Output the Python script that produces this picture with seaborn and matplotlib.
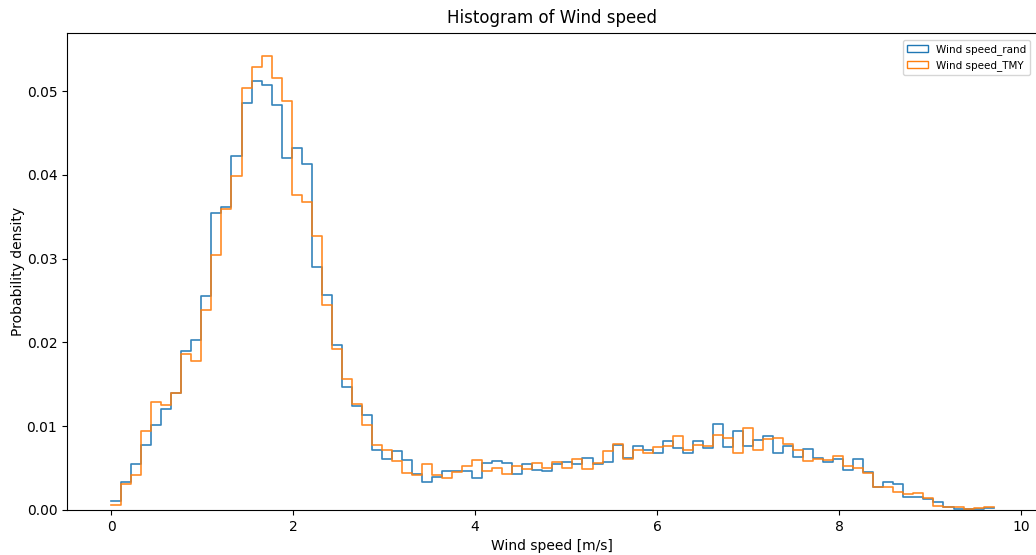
import numpy as np
import pandas as pd
import seaborn as sns
import matplotlib.pyplot as plt
from matplotlib.patches import Patch

# bin heights (probability per bin), 88 bins from 0 to 9.7 m/s
rand_vals = [
    0.0011, 0.0033, 0.0055, 0.0078, 0.0101, 0.0121, 0.0140, 0.0190, 0.0203, 0.0255,
    0.0354, 0.0361, 0.0422, 0.0486, 0.0512, 0.0507, 0.0483, 0.0420, 0.0432, 0.0413,
    0.0290, 0.0256, 0.0197, 0.0147, 0.0124, 0.0113, 0.0072, 0.0061, 0.0070, 0.0060,
    0.0043, 0.0033, 0.0039, 0.0047, 0.0046, 0.0047, 0.0038, 0.0056, 0.0058, 0.0056,
    0.0043, 0.0055, 0.0048, 0.0047, 0.0055, 0.0057, 0.0055, 0.0062, 0.0055, 0.0057,
    0.0078, 0.0062, 0.0076, 0.0072, 0.0068, 0.0082, 0.0074, 0.0068, 0.0082, 0.0074,
    0.0103, 0.0075, 0.0094, 0.0076, 0.0083, 0.0088, 0.0068, 0.0076, 0.0063, 0.0073,
    0.0062, 0.0057, 0.0061, 0.0048, 0.0061, 0.0045, 0.0028, 0.0033, 0.0031, 0.0015,
    0.0016, 0.0013, 0.0009, 0.0003, 0.0001, 0.0001, 0.0001, 0.0002,
]
tmy_vals = [
    0.0006, 0.0031, 0.0042, 0.0094, 0.0129, 0.0125, 0.0140, 0.0186, 0.0178, 0.0239,
    0.0304, 0.0359, 0.0399, 0.0504, 0.0529, 0.0542, 0.0516, 0.0488, 0.0376, 0.0367,
    0.0327, 0.0245, 0.0192, 0.0156, 0.0127, 0.0102, 0.0078, 0.0071, 0.0058, 0.0044,
    0.0042, 0.0055, 0.0042, 0.0038, 0.0045, 0.0052, 0.0060, 0.0046, 0.0050, 0.0043,
    0.0052, 0.0049, 0.0056, 0.0050, 0.0057, 0.0050, 0.0061, 0.0049, 0.0056, 0.0070,
    0.0079, 0.0061, 0.0071, 0.0068, 0.0075, 0.0076, 0.0088, 0.0071, 0.0078, 0.0076,
    0.0089, 0.0086, 0.0068, 0.0098, 0.0072, 0.0085, 0.0086, 0.0079, 0.0072, 0.0058,
    0.0061, 0.0060, 0.0065, 0.0053, 0.0050, 0.0044, 0.0027, 0.0027, 0.0021, 0.0019,
    0.0020, 0.0014, 0.0005, 0.0003, 0.0003, 0.0001, 0.0002, 0.0003,
]
series_names = ["Wind speed_rand", "Wind speed_TMY"]
colors = ["tab:blue", "tab:orange"]

n_bins = len(rand_vals)
speed_max = 9.7
edges = np.linspace(0, speed_max, n_bins + 1)
centers = (edges[:-1] + edges[1:]) / 2

fig = plt.figure(figsize=(10.36, 5.55), dpi=100)
# right spine sits just past the edge of the picture, as in the original
ax = fig.add_axes([0.0647, 0.0811, 0.937, 0.860])

for name, vals, c in zip(series_names, [rand_vals, tmy_vals], colors):
    df = pd.DataFrame({"speed": centers, "w": vals})
    sns.histplot(data=df, x="speed", weights="w", bins=n_bins, binrange=(0, speed_max),
                 element="step", fill=False, color=c, linewidth=1.2, alpha=0.9, ax=ax)

ax.set_title("Histogram of Wind speed", pad=7)
ax.set_xlabel("Wind speed [m/s]")
ax.set_ylabel("Probability density", labelpad=1)
ax.set_xlim(-0.485, 10.185)
ax.set_ylim(0, 0.05696)
ax.set_xticks([0, 2, 4, 6, 8, 10])

handles = [Patch(facecolor="none", edgecolor=c, label=n) for n, c in zip(series_names, colors)]
ax.legend(handles=handles, loc="upper right", fontsize=7.5, borderaxespad=0.7)

fig.savefig("out.png", dpi=100)
